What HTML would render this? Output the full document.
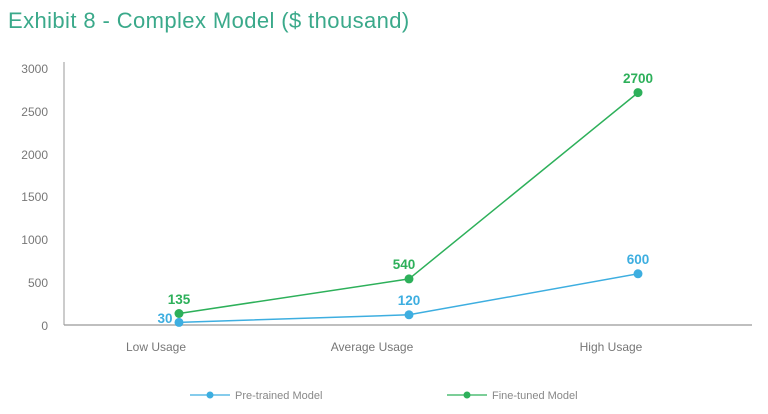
<!DOCTYPE html>
<html><head><meta charset="utf-8"><style>
html,body{margin:0;padding:0;background:#fff;}
body{width:768px;height:414px;overflow:hidden;}
svg{display:block;font-family:"Liberation Sans",sans-serif;}
</style></head><body>
<svg width="768" height="414" viewBox="0 0 768 414" xmlns="http://www.w3.org/2000/svg">
<text x="8" y="28" font-size="22" letter-spacing="0.4" fill="#3aa98a">Exhibit 8 - Complex Model ($ thousand)</text>
<g font-size="12" fill="#777" text-anchor="end">
<text x="48" y="73">3000</text>
<text x="48" y="116">2500</text>
<text x="48" y="159">2000</text>
<text x="48" y="201">1500</text>
<text x="48" y="244">1000</text>
<text x="48" y="287">500</text>
<text x="48" y="330">0</text>
</g>
<line x1="64" y1="62" x2="64" y2="325" stroke="#999" stroke-width="1"/>
<line x1="64" y1="325" x2="752" y2="325" stroke="#999" stroke-width="1.2"/>
<g font-size="12" fill="#777" text-anchor="middle">
<text x="156" y="351">Low Usage</text>
<text x="372" y="351">Average Usage</text>
<text x="611" y="351">High Usage</text>
</g>
<polyline points="179,322.4 409,314.8 638,273.8" fill="none" stroke="#3daee0" stroke-width="1.5"/>
<polyline points="179,313.5 409,278.9 638,92.6" fill="none" stroke="#2db05a" stroke-width="1.5"/>
<circle cx="179" cy="322.4" r="4.5" fill="#3daee0"/>
<circle cx="409" cy="314.8" r="4.5" fill="#3daee0"/>
<circle cx="638" cy="273.8" r="4.5" fill="#3daee0"/>
<circle cx="179" cy="313.5" r="4.5" fill="#2db05a"/>
<circle cx="409" cy="278.9" r="4.5" fill="#2db05a"/>
<circle cx="638" cy="92.6" r="4.5" fill="#2db05a"/>
<g font-size="13.5" font-weight="bold" text-anchor="middle">
<text x="179" y="304" fill="#2db05a">135</text>
<text x="404" y="269" fill="#2db05a">540</text>
<text x="638" y="83" fill="#2db05a">2700</text>
<text x="165" y="323" fill="#3daee0">30</text>
<text x="409" y="305" fill="#3daee0">120</text>
<text x="638" y="264" fill="#3daee0">600</text>
</g>
<line x1="190" y1="395" x2="230" y2="395" stroke="#3daee0" stroke-width="1.2"/>
<circle cx="210" cy="395" r="3.5" fill="#3daee0"/>
<text x="235" y="399" font-size="11" fill="#888">Pre-trained Model</text>
<line x1="447" y1="395" x2="487" y2="395" stroke="#2db05a" stroke-width="1.2"/>
<circle cx="467" cy="395" r="3.5" fill="#2db05a"/>
<text x="492" y="399" font-size="11" fill="#888">Fine-tuned Model</text>
</svg>
</body></html>
